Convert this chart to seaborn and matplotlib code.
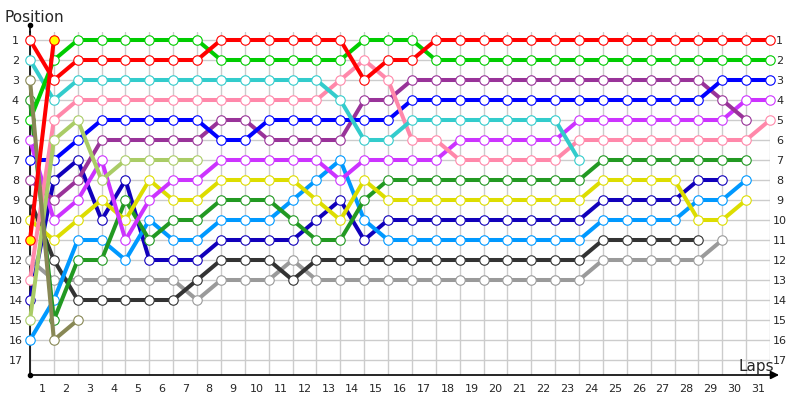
"""
Lap chart: race position per lap for each driver
"""

import numpy as np
import pandas as pd
import matplotlib
matplotlib.use("Agg")
import matplotlib.pyplot as plt
import seaborn as sns

sns.set_theme(style="white")
plt.rcParams['font.family'] = ['DejaVu Sans']

# positions per lap, starting at lap 0 (grid)
red = [1, 3, 2, 2, 2, 2, 2, 2, 1, 1, 1, 1, 1, 1, 3, 2, 2, 1, 1, 1, 1, 1, 1, 1, 1, 1, 1, 1, 1, 1, 1, 1]
green = [5, 2, 1, 1, 1, 1, 1, 1, 2, 2, 2, 2, 2, 2, 1, 1, 1, 2, 2, 2, 2, 2, 2, 2, 2, 2, 2, 2, 2, 2, 2, 2]
cyan = [2, 4, 3, 3, 3, 3, 3, 3, 3, 3, 3, 3, 3, 4, 6, 6, 5, 5, 5, 5, 5, 5, 5, 7]
pink = [13, 5, 4, 4, 4, 4, 4, 4, 4, 4, 4, 4, 4, 3, 2, 3, 6, 6, 7, 7, 7, 7, 7, 6, 6, 6, 6, 6, 6, 6, 6, 5]
blue = [7, 7, 6, 5, 5, 5, 5, 5, 6, 6, 5, 5, 5, 5, 5, 5, 4, 4, 4, 4, 4, 4, 4, 4, 4, 4, 4, 4, 4, 3, 3, 3]
purple = [8, 9, 8, 6, 6, 6, 6, 6, 5, 5, 6, 6, 6, 6, 4, 4, 3, 3, 3, 3, 3, 3, 3, 3, 3, 3, 3, 3, 3, 4, 5]
light_olive = [15, 6, 5, 8, 7, 7, 7, 7]
magenta = [6, 10, 9, 7, 11, 9, 8, 8, 7, 7, 7, 7, 7, 8, 7, 7, 7, 7, 6, 6, 6, 6, 6, 5, 5, 5, 5, 5, 5, 5, 4, 4]
yellow = [10, 11, 10, 9, 10, 8, 9, 9, 8, 8, 8, 8, 9, 10, 8, 9, 9, 9, 9, 9, 9, 9, 9, 9, 8, 8, 8, 8, 10, 10, 9]
dark_green = [4, 15, 12, 12, 9, 11, 10, 10, 9, 9, 9, 10, 11, 11, 9, 8, 8, 8, 8, 8, 8, 8, 8, 8, 7, 7, 7, 7, 7, 7, 7]
light_blue = [16, 14, 11, 11, 12, 10, 11, 11, 10, 10, 10, 9, 8, 7, 10, 11, 11, 11, 11, 11, 11, 11, 11, 11, 10, 10, 10, 10, 9, 9, 8]
navy = [14, 8, 7, 10, 8, 12, 12, 12, 11, 11, 11, 11, 10, 9, 11, 10, 10, 10, 10, 10, 10, 10, 10, 10, 9, 9, 9, 9, 8, 8]
dark_gray = [9, 12, 14, 14, 14, 14, 14, 13, 12, 12, 12, 13, 12, 12, 12, 12, 12, 12, 12, 12, 12, 12, 12, 12, 11, 11, 11, 11, 11]
light_gray = [12, 13, 13, 13, 13, 13, 13, 14, 13, 13, 13, 12, 13, 13, 13, 13, 13, 13, 13, 13, 13, 13, 13, 13, 12, 12, 12, 12, 12, 11]
olive_brown = [3, 16, 15]
red_b = [11, 1]

drivers = [
    ("light_gray", light_gray, "#9a9a9a", "white"),
    ("dark_gray", dark_gray, "#333333", "white"),
    ("navy", navy, "#1100bb", "white"),
    ("light_blue", light_blue, "#0099ff", "white"),
    ("dark_green", dark_green, "#229922", "white"),
    ("yellow", yellow, "#dddd00", "white"),
    ("magenta", magenta, "#cc33ff", "white"),
    ("purple", purple, "#993399", "white"),
    ("blue", blue, "#0000ff", "white"),
    ("pink", pink, "#ff88aa", "white"),
    ("cyan", cyan, "#33cccc", "white"),
    ("green", green, "#00cc00", "white"),
    ("red", red, "#ff0000", "white"),
    ("light_olive", light_olive, "#aacc66", "white"),
    ("olive_brown", olive_brown, "#888855", "white"),
    ("red_b", red_b, "#ff0000", "#ffff00"),
]

n_laps = 31
positions = list(range(1, 18))
lap_labels = [str(i) for i in range(1, n_laps + 1)]

fig = plt.figure(figsize=(8, 4), dpi=100)
ax = fig.add_axes([0.0375, 0.0625, 0.925, 0.8575])

for name, vals, color, face in drivers:
    laps = np.arange(len(vals))
    sns.lineplot(x=laps, y=vals, ax=ax, color=color, lw=2.9, marker='o',
                 markersize=6.8, markerfacecolor=face, markeredgecolor=color,
                 markeredgewidth=0.8, estimator=None, clip_on=False, zorder=3)

ax.set_xlim(0, n_laps)
ax.set_ylim(17.75, 0.6)

# grid on integer laps / positions, lap labels sit between grid lines
ax.set_xticks(np.arange(0, n_laps + 1))
ax.set_xticklabels([])
ax.set_xticks(np.arange(0.5, n_laps, 1), minor=True)
ax.set_xticklabels(lap_labels, minor=True, fontsize=8)
ax.set_yticks(positions)
ax.set_yticklabels([str(p) for p in positions], fontsize=8)
ax.tick_params(axis='x', which='both', length=0, pad=6.5)
ax.tick_params(axis='y', length=0, pad=10.5)
for lab in ax.get_yticklabels():
    lab.set_ha('center')
ax.grid(True, which='major', color='#cccccc', lw=1)
ax.set_axisbelow(True)
ax.set_xlabel('')
ax.set_ylabel('')

for s in ['top', 'right', 'bottom']:
    ax.spines[s].set_visible(False)
ax.spines['left'].set_color('black')
ax.spines['left'].set_linewidth(1.2)

# right-hand position labels
ax2 = ax.twinx()
ax2.set_ylim(17.75, 0.6)
ax2.set_yticks(positions)
ax2.set_yticklabels([str(p) for p in positions], fontsize=8)
ax2.tick_params(axis='y', length=0, pad=7)
for lab in ax2.get_yticklabels():
    lab.set_ha('center')
for s in ax2.spines.values():
    s.set_visible(False)

# axis arrows
ax.annotate('', xy=(1.016, 0), xytext=(0, 0), xycoords='axes fraction',
            arrowprops=dict(arrowstyle='-|>', color='black', lw=1.2, mutation_scale=12))
ax.plot([0, 0], [1, 1.02], transform=ax.transAxes, color='black', lw=1.2, clip_on=False)
ax.plot([0], [1.02], 'o', ms=3, color='black', transform=ax.transAxes, clip_on=False)
ax.plot([0], [0], 'o', ms=3, color='black', transform=ax.transAxes, clip_on=False)

fig.text(4 / 800, 1 - 22 / 400, 'Position', fontsize=11, ha='left', va='baseline')
fig.text(774 / 800, 1 - 371 / 400, 'Laps', fontsize=11, ha='right', va='baseline')

fig.savefig('out.png', dpi=100)
